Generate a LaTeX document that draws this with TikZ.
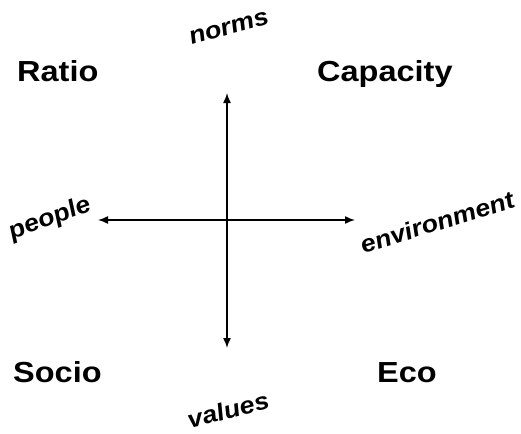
\documentclass[tikz,border=0pt]{standalone}
\usepackage{fontspec}
\setmainfont{Liberation Sans}
\usepackage{tikz}
\usetikzlibrary{arrows.meta,positioning}

\begin{document}
\begin{tikzpicture}[
    x=1pt, y=-1pt,
    corner/.style={anchor=base west, inner sep=0pt, xscale=1.12, font=\fontsize{29}{33}\selectfont\bfseries},
    pole/.style={inner sep=0pt, xscale=1.12, font=\fontsize{24}{28}\selectfont\bfseries\itshape},
    axis/.style={{Latex[length=10pt,width=8pt]}-{Latex[length=10pt,width=8pt]}, line width=1.5pt}
  ]
    \useasboundingbox (0,0) rectangle (521,433);
    % quadrants
    \node[corner] (ratio) at (17,82) {Ratio};
    \node[corner] (capacity) at (317,82) {Capacity};
    \node[corner] (socio) at (13,382) {Socio};
    \node[corner] (eco) at (377,382) {Eco};
    % axis ends
    \coordinate (top) at (227,93);
    \coordinate (bottom) at (227,348);
    \coordinate (left) at (98,220);
    \coordinate (right) at (355,220);
    \draw[axis] (top) -- (bottom);
    \draw[axis] (left) -- (right);
    % pole labels
    \node[pole, rotate=17] (norms) at (229,28) {norms};
    \node[pole, rotate=22] (people) at (50,219) {people};
    \node[pole, rotate=19] (environment) at (437,222) {environment};
    \node[pole, rotate=16] (values) at (228,410) {values};
\end{tikzpicture}
\end{document}
